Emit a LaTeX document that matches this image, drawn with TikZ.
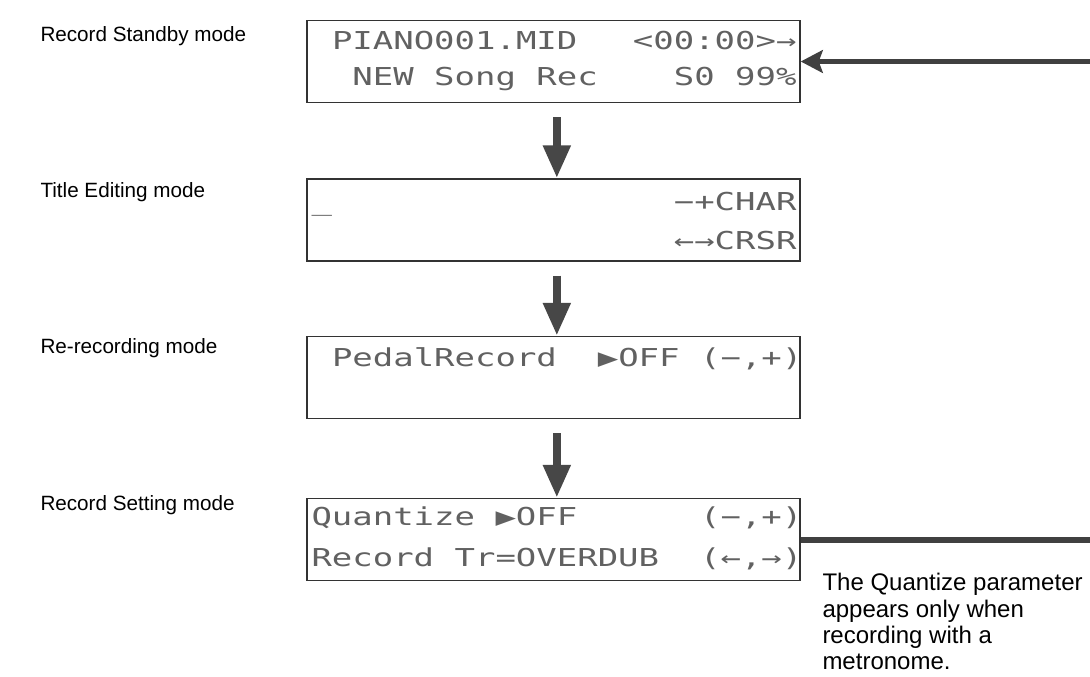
\documentclass[tikz,border=0pt]{standalone}
\usepackage{fontspec}
\setmainfont{Liberation Sans}
\newfontfamily\lcdfont[FakeStretch=1.377]{DejaVu Sans Mono}
\usetikzlibrary{arrows.meta}

\tikzset{every picture/.style={line width=0.75pt}}
\tikzset{
  lcdbox/.style={draw=black!80, line width=1.1pt, minimum width=369.75pt, minimum height=61.5pt, inner sep=0pt},
  lcdtext/.style={anchor=base west, inner sep=0pt, text=black!62, font={\lcdfont\fontsize{18.5}{20}\selectfont}},
  lcdright/.style={lcdtext, anchor=base east},
  modelabel/.style={anchor=base west, inner sep=0pt, font={\fontsize{15.5}{18}\selectfont}},
  notetext/.style={anchor=north west, inner sep=0pt, align=left, font={\fontsize{18}{19.7}\selectfont}},
  modearrow/.style={draw=black!72, line width=6pt, -{Triangle[length=24.75pt, width=19.5pt]}},
  returnarrow/.style={draw=black!75, line width=3.75pt, -{Stealth[length=16.5pt, width=17pt, inset=3pt]}},
  returnline/.style={draw=black!75, line width=4.5pt}
}

\begin{document}
\begin{tikzpicture}[x=0.75pt,y=0.75pt,yscale=-1,xscale=1]
  \useasboundingbox (0,0) rectangle (1090,676);

  %Shape: Rectangle [standby]
  \node[lcdbox] (standby) at (553.5,61.5) {};
  %Shape: Rectangle [title]
  \node[lcdbox] (title) at (553.5,220) {};
  %Shape: Rectangle [pedal]
  \node[lcdbox] (pedal) at (553.5,377.5) {};
  %Shape: Rectangle [setting]
  \node[lcdbox] (setting) at (553.5,539.5) {};

  % Text Node
  \node[modelabel] (lblstandby) at (40,41) {Record Standby mode};
  % Text Node
  \node[modelabel] (lbltitle) at (40,197) {Title Editing mode};
  % Text Node
  \node[modelabel] (lblpedal) at (40,353) {Re-recording mode};
  % Text Node
  \node[modelabel] (lblsetting) at (40,510) {Record Setting mode};

  % LCD: Record Standby
  \node[lcdtext] (sbname) at (331.5,49) {PIANO001.MID};
  \node[lcdright] (sbtime) at (797,49) {<00:00>→};
  \node[lcdtext] (sbnew) at (351.9,85) {NEW Song Rec};
  \node[lcdright] (sbfree) at (797,85) {S0 99\%};

  % LCD: Title Editing
  \node[lcdtext] (ttcursor) at (311,210) {\_};
  \node[lcdright] (ttchar) at (797,210) {−+CHAR};
  \node[lcdright] (ttcrsr) at (797,249) {←→CRSR};

  % LCD: Re-recording
  \node[lcdtext] (pdname) at (331.5,366) {PedalRecord};
  \node[lcdtext] (pdvalue) at (597.3,366) {▶OFF};
  \node[lcdtext] (pdkeys) at (699.6,366) {(−,+)};

  % LCD: Record Setting
  \node[lcdtext] (stquant) at (311,525) {Quantize ▶OFF};
  \node[lcdtext] (stqkeys) at (699.6,525) {(−,+)};
  \node[lcdtext] (sttrack) at (311,566) {Record Tr=OVERDUB};
  \node[lcdtext] (sttkeys) at (699.6,566) {(←,→)};

  %Straight Lines [mode arrows]
  \draw[modearrow] ([xshift=2.5pt,yshift=10.5pt]standby.south) -- ([xshift=2.5pt]title.north);
  \draw[modearrow] ([xshift=2.5pt,yshift=10.5pt]title.south) -- ([xshift=2.5pt]pedal.north);
  \draw[modearrow] ([xshift=2.5pt,yshift=10.5pt]pedal.south) -- ([xshift=2.5pt]setting.north);

  %Straight Lines [return path]
  \coordinate (returnin) at (1090,61.5);
  \coordinate (returnout) at (1090,539.5);
  \draw[returnarrow] (returnin) -- (standby.east);
  \draw[returnline] (setting.east) -- (returnout);

  % Text Node
  \node[notetext] (note) at (822,573) {The Quantize parameter\\appears only when\\recording with a\\metronome.};

\end{tikzpicture}
\end{document}
